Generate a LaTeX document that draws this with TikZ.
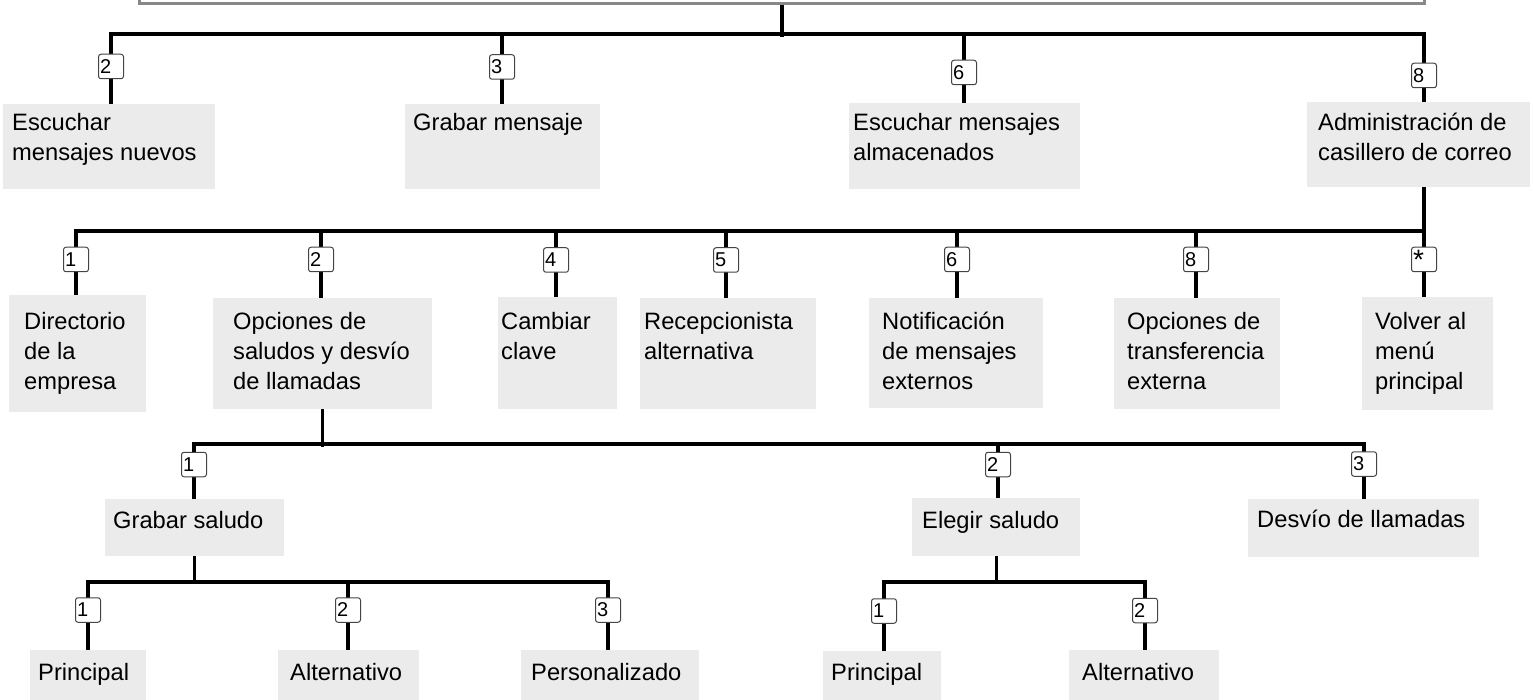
\documentclass[tikz,border=0pt]{standalone}
\usepackage{fontspec}
\setmainfont{Liberation Sans}
\usepackage{graphicx}
\usetikzlibrary{backgrounds}
\newcommand{\mlines}[1]{\begin{tabular}[t]{@{}l@{}}#1\end{tabular}}
\definecolor{boxgray}{HTML}{EBEBEB}
\definecolor{framegray}{HTML}{888888}
\definecolor{keyborder}{HTML}{444444}
\begin{document}
\begin{tikzpicture}[x=1pt,y=-1pt,
  conn/.style={line width=3.2pt, draw=black},
  gbox/.style={fill=boxgray, inner sep=0pt, anchor=north west},
  txt/.style={inner sep=0pt, anchor=base west, font=\fontsize{23.7}{30}\selectfont},
  keybox/.style={draw=keyborder, line width=1pt, rounded corners=2.5pt, fill=white,
    inner xsep=1.5pt, inner ysep=0pt, minimum height=24.5pt, text width=22pt,
    align=left, font=\fontsize{20}{20}\selectfont},
]
\useasboundingbox (0,0) rectangle (1533,700);

% top frame
\node[draw=framegray, line width=3pt, inner sep=0pt, minimum width=1285pt,
  minimum height=30pt, anchor=south west] (top) at (138,5) {};

% ---------- level 1 ----------
\coordinate (bus1) at (0,34);
\node[keybox] (k12) at (111,66.5) {2};
\node[keybox] (k13) at (502,67) {3};
\node[keybox] (k16) at (964,72.5) {6};
\node[keybox] (k18) at (1424,75.5) {8};

\node[gbox, minimum width=212pt, minimum height=85pt] (b11) at (3,104) {};
\node[gbox, minimum width=195pt, minimum height=85pt] (b12) at (405,104) {};
\node[gbox, minimum width=231pt, minimum height=86pt] (b13) at (849,103) {};
\node[gbox, minimum width=223pt, minimum height=85pt] (b14) at (1307,102) {};
\node[txt] (t11) at (12,131) {\mlines{Escuchar\\mensajes nuevos}};
\node[txt] (t12) at (413,131) {\mlines{Grabar mensaje}};
\node[txt] (t13) at (853,131) {\mlines{Escuchar mensajes\\almacenados}};
\node[txt] (t14) at (1318,131) {\mlines{Administración de\\casillero de correo}};

% ---------- level 2 ----------
\coordinate (bus2) at (0,231);
\node[keybox] (k21) at (76,259.5) {1};
\node[keybox] (k22) at (321,259.5) {2};
\node[keybox] (k24) at (556,260) {4};
\node[keybox] (k25) at (726,260) {5};
\node[keybox] (k26) at (957,259.5) {6};
\node[keybox] (k28) at (1196,259.5) {8};
\node[keybox] (k2s) at (1424,259.5) {\vphantom{0}\raisebox{-6pt}{\scalebox{1.4}{*}}};

\node[gbox, minimum width=137pt, minimum height=117pt] (b21) at (9,295) {};
\node[gbox, minimum width=219pt, minimum height=111pt] (b22) at (213,298) {};
\node[gbox, minimum width=119pt, minimum height=112pt] (b23) at (498,297) {};
\node[gbox, minimum width=176pt, minimum height=111pt] (b24) at (640,298) {};
\node[gbox, minimum width=174pt, minimum height=110pt] (b25) at (869,298) {};
\node[gbox, minimum width=166pt, minimum height=111pt] (b26) at (1114,298) {};
\node[gbox, minimum width=131pt, minimum height=113pt] (b27) at (1362,297) {};
\node[txt] (t21) at (24,330) {\mlines{Directorio\\de la\\empresa}};
\node[txt] (t22) at (233,330) {\mlines{Opciones de\\saludos y desvío\\de llamadas}};
\node[txt] (t23) at (501,330) {\mlines{Cambiar\\clave}};
\node[txt] (t24) at (644,330) {\mlines{Recepcionista\\alternativa}};
\node[txt] (t25) at (882,330) {\mlines{Notificación\\de mensajes\\externos}};
\node[txt] (t26) at (1127,330) {\mlines{Opciones de\\transferencia\\externa}};
\node[txt] (t27) at (1375,330) {\mlines{Volver al\\menú\\principal}};

% ---------- level 3 ----------
\coordinate (bus3) at (0,444);
\node[keybox] (k31) at (194,464.5) {1};
\node[keybox] (k32) at (998,464.5) {2};
\node[keybox] (k33) at (1364,464) {3};

\node[gbox, minimum width=179pt, minimum height=57pt] (b31) at (105,499) {};
\node[gbox, minimum width=168pt, minimum height=58pt] (b32) at (912,498) {};
\node[gbox, minimum width=231pt, minimum height=58pt] (b33) at (1248,499) {};
\node[txt] (t31) at (113,528) {\mlines{Grabar saludo}};
\node[txt] (t32) at (922,528) {\mlines{Elegir saludo}};
\node[txt] (t33) at (1257,527) {\mlines{Desvío de llamadas}};

% ---------- level 4 ----------
\coordinate (bus4) at (0,582);
\node[keybox] (k41) at (88,610) {1};
\node[keybox] (k42) at (348,610) {2};
\node[keybox] (k43) at (608,610) {3};
\node[keybox] (k44) at (884,611) {1};
\node[keybox] (k45) at (1145,610.5) {2};

\node[gbox, minimum width=116pt, minimum height=55pt] (b41) at (30,650) {};
\node[gbox, minimum width=141pt, minimum height=55pt] (b42) at (278,650) {};
\node[gbox, minimum width=178pt, minimum height=55pt] (b43) at (521,650) {};
\node[gbox, minimum width=118pt, minimum height=55pt] (b44) at (823,651) {};
\node[gbox, minimum width=150pt, minimum height=55pt] (b45) at (1069,650) {};
\node[txt] (t41) at (38,680) {\mlines{Principal}};
\node[txt] (t42) at (290,680) {\mlines{Alternativo}};
\node[txt] (t43) at (531,680) {\mlines{Personalizado}};
\node[txt] (t44) at (831,680) {\mlines{Principal}};
\node[txt] (t45) at (1082,680) {\mlines{Alternativo}};

% ---------- connectors ----------
\begin{pgfonlayer}{background}
  % level 1
  \draw[conn] (top.south) -- ++(0,32);
  \draw[conn] (k12 |- b11.north) -- (k12 |- bus1) -- (k18 |- bus1) -- (k18 |- b14.north);
  \draw[conn] (k13 |- bus1) -- (k13 |- b12.north);
  \draw[conn] (k16 |- bus1) -- (k16 |- b13.north);
  % level 2
  \draw[conn] (k18 |- b14.south) -- (k18 |- bus2);
  \draw[conn] (k21 |- b21.north) -- (k21 |- bus2) -- (k2s |- bus2) -- (k2s |- b27.north);
  \draw[conn] (k22 |- bus2) -- (k22 |- b22.north);
  \draw[conn] (k24 |- bus2) -- (k24 |- b23.north);
  \draw[conn] (k25 |- bus2) -- (k25 |- b24.north);
  \draw[conn] (k26 |- bus2) -- (k26 |- b25.north);
  \draw[conn] (k28 |- bus2) -- (k28 |- b26.north);
  % level 3
  \draw[conn] (b22.south) -- ++(0,38);
  \draw[conn] (k31 |- b31.north) -- (k31 |- bus3) -- (k33 |- bus3) -- (k33 |- b33.north);
  \draw[conn] (k32 |- bus3) -- (k32 |- b32.north);
  % level 4 (left)
  \draw[conn] (b31.south) -- ++(0,28);
  \draw[conn] (k41 |- b41.north) -- (k41 |- bus4) -- (k43 |- bus4) -- (k43 |- b43.north);
  \draw[conn] (k42 |- bus4) -- (k42 |- b42.north);
  % level 4 (right)
  \draw[conn] (b32.south) -- ++(0,27);
  \draw[conn] (k44 |- b44.north) -- (k44 |- bus4) -- (k45 |- bus4) -- (k45 |- b45.north);
\end{pgfonlayer}
\end{tikzpicture}
\end{document}
